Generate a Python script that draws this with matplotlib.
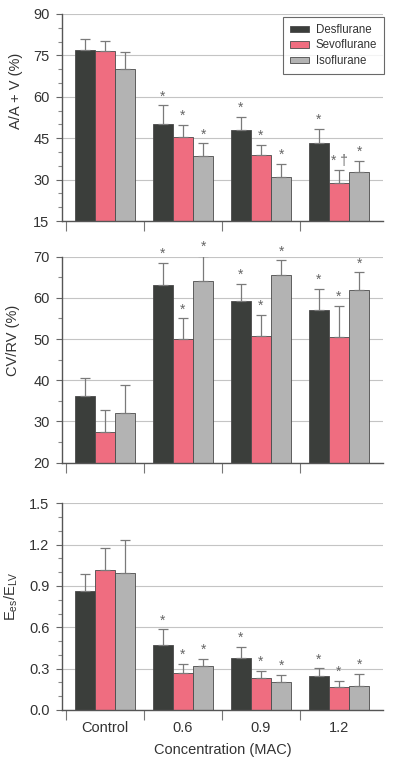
import numpy as np
import matplotlib
matplotlib.use("Agg")
import matplotlib.pyplot as plt
from matplotlib.ticker import MultipleLocator, FixedLocator

plt.rcParams['font.family'] = ['Liberation Sans', 'DejaVu Sans']
plt.rcParams['mathtext.default'] = 'regular'

groups = ['Control', '0.6', '0.9', '1.2']
agents = ['Desflurane', 'Sevoflurane', 'Isoflurane']
colors = ['#3b3e3b', '#ef6d80', '#b3b3b3']

# panel 1: A/A + V (%)
aav_mean = [[77.1, 50.3, 47.9, 43.2],
            [76.7, 45.4, 39.0, 28.7],
            [69.9, 38.7, 31.1, 32.9]]
aav_sd = [[3.8, 6.6, 4.9, 5.3],
          [3.6, 4.5, 3.5, 4.8],
          [6.3, 4.4, 4.5, 3.8]]

# panel 2: CV/RV (%)
cvrv_mean = [[36.2, 63.1, 59.3, 57.1],
             [27.4, 50.0, 50.8, 50.6],
             [32.1, 64.0, 65.5, 61.9]]
cvrv_sd = [[4.3, 5.3, 4.1, 5.1],
           [5.5, 5.0, 5.0, 7.5],
           [6.7, 6.2, 3.6, 4.3]]

# panel 3: Ees/ELV
ratio_mean = [[0.866, 0.472, 0.375, 0.244],
              [1.016, 0.271, 0.232, 0.165],
              [0.997, 0.317, 0.206, 0.174]]
ratio_sd = [[0.121, 0.113, 0.080, 0.058],
            [0.157, 0.065, 0.049, 0.045],
            [0.237, 0.055, 0.050, 0.089]]

# significance marks (rows = agents, cols = groups)
aav_marks = [['', '*', '*', '*'], ['', '*', '*', '* \u2020'], ['', '*', '*', '*']]
cvrv_marks = [['', '*', '*', '*'], ['', '*', '*', '*'], ['', '*', '*', '*']]
ratio_marks = [['', '*', '*', '*'], ['', '*', '*', '*'], ['', '*', '*', '*']]

fig = plt.figure(figsize=(3.94, 7.6), dpi=100)
rects = [[0.1574, 0.7092, 0.8147, 0.2724],
         [0.1574, 0.3912, 0.8147, 0.2711],
         [0.1574, 0.0658, 0.8147, 0.2720]]

panels = [
    (aav_mean, aav_sd, aav_marks, (15, 90), 15, 5, 'A/A + V (%)', (-0.12, 0.628), '%d'),
    (cvrv_mean, cvrv_sd, cvrv_marks, (20, 70), 10, 5, 'CV/RV (%)', (-0.132, 0.596), '%d'),
    (ratio_mean, ratio_sd, ratio_marks, (0, 1.5), 0.3, 0.1, r'$E_{es}/E_{LV}$', (-0.132, 0.55), '%.1f'),
]

x = np.arange(len(groups))
w = 0.26
offs = [-w, 0, w]

axes = []
for k, (means, sds, marks, ylim, major, minor, ylab, labpos, fmt) in enumerate(panels):
    ax = fig.add_axes(rects[k])
    axes.append(ax)
    ax.set_axisbelow(True)
    ax.yaxis.grid(True, color='#c4c4c4', lw=0.8)
    for j in range(3):
        xs = x + offs[j]
        ax.bar(xs, means[j], w, bottom=0, color=colors[j], edgecolor='#4a4a4a',
               linewidth=0.6, label=agents[j], zorder=2)
        ax.errorbar(xs, means[j], yerr=[np.zeros(4), sds[j]], fmt='none',
                    ecolor='#7a7a7a', elinewidth=0.9, capsize=3.6, capthick=0.9, zorder=3)
        for i in range(4):
            if marks[j][i]:
                ax.annotate(marks[j][i], (xs[i], means[j][i] + sds[j][i]),
                            xytext=(0, 6.5), textcoords='offset points',
                            ha='center', va='center', fontsize=10, color='#666666',
                            annotation_clip=False)
    ax.set_ylim(*ylim)
    ax.set_xlim(-0.551, 3.564)
    ax.yaxis.set_major_locator(MultipleLocator(major))
    ax.yaxis.set_minor_locator(MultipleLocator(minor))
    ax.yaxis.set_major_formatter(matplotlib.ticker.FormatStrFormatter(fmt))
    ax.spines['top'].set_visible(False)
    ax.spines['right'].set_visible(False)
    for s in ('left', 'bottom'):
        ax.spines[s].set_color('#555555')
        ax.spines[s].set_linewidth(1.0)
    ax.tick_params(axis='y', which='major', direction='out', length=4, width=0.8,
                   color='#666666', labelsize=10.5, labelcolor='#333333', pad=5)
    ax.tick_params(axis='y', which='minor', direction='out', length=3, width=0.8,
                   color='#888888')
    ax.xaxis.set_major_locator(FixedLocator([-0.5, 0.5, 1.5, 2.5]))
    ax.xaxis.set_minor_locator(FixedLocator(x))
    ax.set_xticklabels([])
    ax.tick_params(axis='x', which='major', direction='out', length=7, width=0.8,
                   color='#777777')
    ax.tick_params(axis='x', which='minor', length=0, labelsize=10.5,
                   labelcolor='#333333', pad=8)
    ax.set_ylabel(ylab, fontsize=10.5, color='#333333')
    ax.yaxis.set_label_coords(*labpos)

axes[2].set_xticklabels(groups, minor=True)
axes[2].set_xlabel('Concentration (MAC)', fontsize=10.5, color='#333333', labelpad=6)

leg = axes[0].legend(loc='upper left', bbox_to_anchor=(0.69, 0.985), fontsize=8.3,
                     frameon=True, fancybox=False, edgecolor='#444444',
                     borderaxespad=0, handlelength=1.6, handleheight=0.5,
                     handletextpad=0.6, labelspacing=0.3, borderpad=0.6,
                     labelcolor='#333333')
leg.get_frame().set_linewidth(0.8)

fig.savefig('out.png', dpi=100)
